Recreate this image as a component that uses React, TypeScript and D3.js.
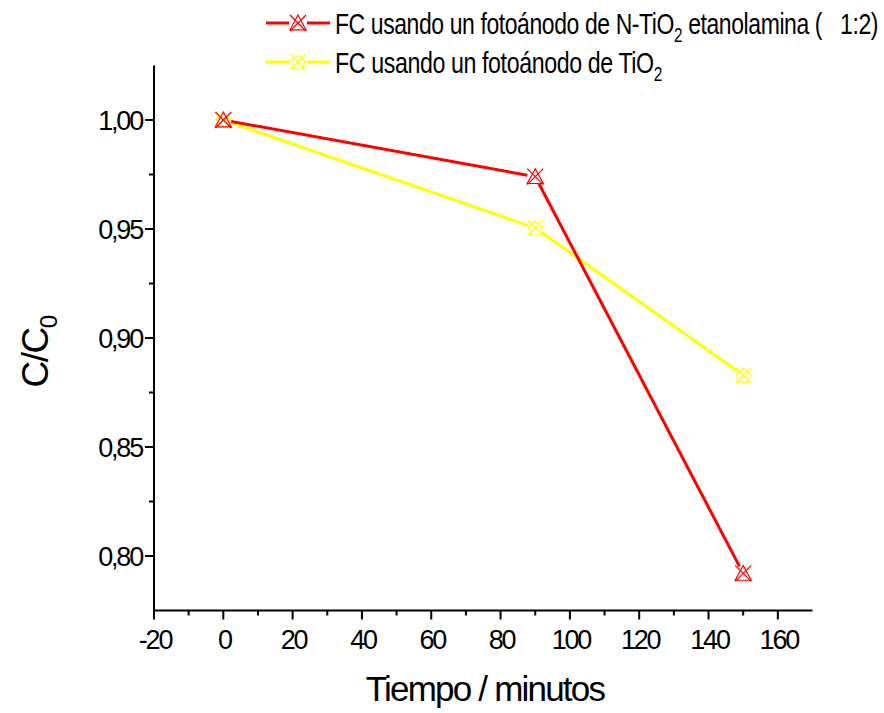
import React, { useLayoutEffect, useRef, useState } from "react";
import * as d3 from "d3";

// Irradiation time (minutes) and normalised concentration C/C0
const tiempo = [0, 90, 150];
const serieNTiO2 = [1.0, 0.974, 0.792];
const serieTiO2 = [1.0, 0.9505, 0.883];

const xMajorTicks = [-20, 0, 20, 40, 60, 80, 100, 120, 140, 160];
const xMinorTicks = [-10, 10, 30, 50, 70, 90, 110, 130, 150];
const yMajorTicks = [0.8, 0.85, 0.9, 0.95, 1.0];
const yMinorTicks = [0.825, 0.875, 0.925, 0.975];

const W = 884;
const H = 713;

const x = d3.scaleLinear().domain([-20, 170]).range([154, 812.5]);
const y = d3.scaleLinear().domain([0.775, 1.025]).range([610.5, 65.5]);

const FONT = "'Liberation Sans', Arial, sans-serif";

function TriangleCross({ cx, cy, color }: { cx: number; cy: number; color: string }) {
  const r = 8;
  const tri = d3.path();
  tri.moveTo(cx, cy - r);
  tri.lineTo(cx + r, cy + r * 0.85);
  tri.lineTo(cx - r, cy + r * 0.85);
  tri.closePath();
  return (
    <g stroke={color} strokeWidth={1.2} fill="none">
      <path d={tri.toString()} />
      <line x1={cx - r} y1={cy - r} x2={cx + r} y2={cy + r} />
      <line x1={cx + r} y1={cy - r} x2={cx - r} y2={cy + r} />
    </g>
  );
}

function PentagonCross({ cx, cy, color }: { cx: number; cy: number; color: string }) {
  const r = 7.5;
  const pts = d3.range(5).map((i) => {
    const a = -Math.PI / 2 + (i * 2 * Math.PI) / 5;
    return [cx + r * Math.cos(a), cy + r * Math.sin(a) + 1] as [number, number];
  });
  return (
    <g stroke={color} strokeWidth={1.2} fill="none">
      <path d={(d3.line()(pts) || "") + "Z"} />
      <line x1={cx - r} y1={cy - r} x2={cx + r} y2={cy + r} />
      <line x1={cx + r} y1={cy - r} x2={cx - r} y2={cy + r} />
    </g>
  );
}

// Line segments between consecutive points, trimmed so they stop at the marker edge
function segments(xs: number[], ys: number[], gap: number) {
  const out: { x1: number; y1: number; x2: number; y2: number }[] = [];
  for (let i = 0; i < xs.length - 1; i++) {
    const ax = x(xs[i]), ay = y(ys[i]);
    const bx = x(xs[i + 1]), by = y(ys[i + 1]);
    const len = Math.hypot(bx - ax, by - ay);
    const ux = (bx - ax) / len, uy = (by - ay) / len;
    out.push({ x1: ax + ux * gap, y1: ay + uy * gap, x2: bx - ux * gap, y2: by - uy * gap });
  }
  return out;
}

// Text squeezed horizontally to a given width (narrow legend face)
function NarrowText({ x0, y0, width, children }: { x0: number; y0: number; width: number; children: React.ReactNode }) {
  const ref = useRef<SVGTextElement>(null);
  const [sx, setSx] = useState(0.75);
  useLayoutEffect(() => {
    if (ref.current) {
      const w = ref.current.getBBox().width;
      if (w > 0) setSx(width / w);
    }
  }, [width]);
  return (
    <g transform={`translate(${x0},${y0}) scale(${sx},1)`}>
      <text ref={ref} x={0} y={0} style={{ whiteSpace: "pre" }}>
        {children}
      </text>
    </g>
  );
}

const series = [
  { values: serieTiO2, color: "#ffff00", Marker: PentagonCross },
  { values: serieNTiO2, color: "#ff0000", Marker: TriangleCross },
];

export default function App() {
  return (
    <svg width={W} height={H} style={{ position: "absolute", left: 0, top: 0, background: "#fff" }} fontFamily={FONT}>
      <rect width={W} height={H} fill="#fff" />

      {/* axes */}
      <g stroke="#000" strokeWidth={2} fill="none">
        <line x1={x(-20)} y1={y(1.025)} x2={x(-20)} y2={y(0.775) + 1} />
        <line x1={x(-20) - 1} y1={y(0.775)} x2={x(170)} y2={y(0.775)} />
        {yMajorTicks.map((t) => (
          <line key={"ym" + t} x1={x(-20) - 9} y1={y(t)} x2={x(-20)} y2={y(t)} />
        ))}
        {yMinorTicks.map((t) => (
          <line key={"yn" + t} x1={x(-20) - 5} y1={y(t)} x2={x(-20)} y2={y(t)} />
        ))}
        {xMajorTicks.map((t) => (
          <line key={"xm" + t} x1={x(t)} y1={y(0.775)} x2={x(t)} y2={y(0.775) + 9} />
        ))}
        {xMinorTicks.map((t) => (
          <line key={"xn" + t} x1={x(t)} y1={y(0.775)} x2={x(t)} y2={y(0.775) + 5} />
        ))}
      </g>

      {/* tick labels */}
      <g fontSize={27} fill="#000" letterSpacing={-2.2}>
        {yMajorTicks.map((t) => (
          <text key={"yl" + t} x={x(-20) - 12} y={y(t) + 10} textAnchor="end">
            {d3.format(".2f")(t).replace(".", ",")}
          </text>
        ))}
        {xMajorTicks.map((t) => (
          <text key={"xl" + t} x={x(t) + 1} y={y(0.775) + 38} textAnchor="middle">
            {t}
          </text>
        ))}
      </g>

      {/* axis titles */}
      <text x={485} y={701} fontSize={35} textAnchor="middle" letterSpacing={-1.8}>
        Tiempo / minutos
      </text>
      <g transform="translate(48,352) rotate(-90)">
        <text x={0} y={0} fontSize={37} textAnchor="middle" letterSpacing={-1.5}>
          C/C<tspan fontSize={24} dy={9}>0</tspan>
        </text>
      </g>

      {/* data */}
      {series.map((s, si) => (
        <g key={"s" + si}>
          {segments(tiempo, s.values, 8).map((sg, i) => (
            <line key={i} {...sg} stroke={s.color} strokeWidth={3} />
          ))}
        </g>
      ))}
      {series.map((s, si) => (
        <g key={"m" + si}>
          {tiempo.map((t, i) => (
            <s.Marker key={i} cx={x(t)} cy={y(s.values[i])} color={s.color} />
          ))}
        </g>
      ))}

      {/* legend */}
      <g fontSize={30} letterSpacing={-0.5}>
        <line x1={266} y1={23} x2={289} y2={23} stroke="#ff0000" strokeWidth={3} />
        <line x1={307} y1={23} x2={330} y2={23} stroke="#ff0000" strokeWidth={3} />
        <TriangleCross cx={298} cy={23} color="#ff0000" />
        <NarrowText x0={335} y0={34} width={543}>
          FC usando un fotoánodo de N-TiO<tspan fontSize={20} dy={8}>2</tspan>
          <tspan dy={-8}> etanolamina (   1:2)</tspan>
        </NarrowText>

        <line x1={266} y1={62} x2={289} y2={62} stroke="#ffff00" strokeWidth={3} />
        <line x1={307} y1={62} x2={330} y2={62} stroke="#ffff00" strokeWidth={3} />
        <PentagonCross cx={298} cy={62} color="#ffff00" />
        <NarrowText x0={335} y0={73} width={327}>
          FC usando un fotoánodo de TiO<tspan fontSize={20} dy={8}>2</tspan>
        </NarrowText>
      </g>
    </svg>
  );
}
